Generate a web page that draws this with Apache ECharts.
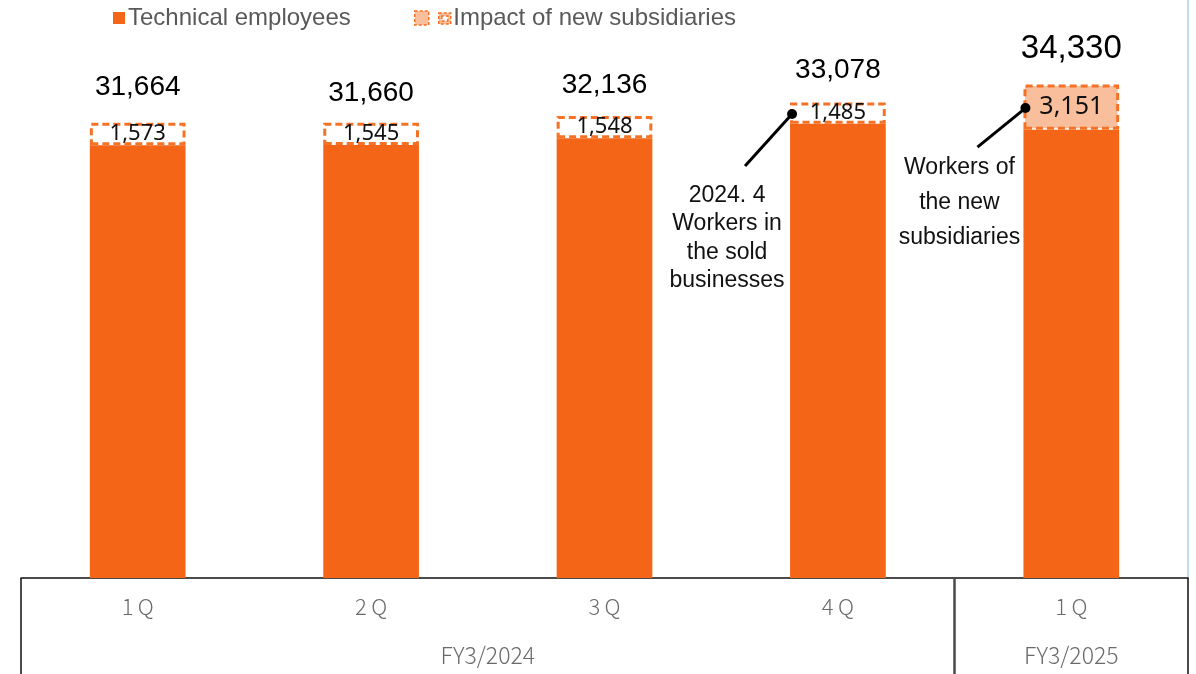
<!DOCTYPE html>
<html>
<head>
<meta charset="utf-8">
<script src="https://cdn.jsdelivr.net/npm/echarts@6/dist/echarts.min.js"></script>
<style>
  html, body { margin: 0; padding: 0; background: #fff; }
  #chart { width: 1196px; height: 674px; }
</style>
</head>
<body>
<div id="chart"></div>
<script>
// Quarter labels along the axis and the fiscal years they belong to
const quarters = ['1Q', '2Q', '3Q', '4Q', '1Q'];
const fiscalYears = ['FY3/2024', 'FY3/2025'];
const quartersPerYear = [4, 1];

// Headcount at each quarter end, and the part shown in the dashed box
const totals = [31664, 31660, 32136, 33078, 34330];
const boxedValues = [1573, 1545, 1548, 1485, 3151];

// Callout notes attached to the boxed segments
const noteBar4 = ['2024. 4', 'Workers in', 'the sold', 'businesses'];
const noteBar5 = ['Workers of', 'the new', 'subsidiaries'];

const seriesNames = ['Technical employees', 'Impact of new subsidiaries'];

const ORANGE = '#F46518';
const PEACH = '#F9BE9C';
const DASH_ORANGE = '#F47125';
const BAR_WIDTH = '41%';

const baseValues = totals.map((t, i) => t - boxedValues[i]);

// fiscal-year label positions: centre of each year's run of quarters
const yearCenters = [];
const yearEdges = [-0.5];
let start = 0;
quartersPerYear.forEach(n => {
  yearCenters.push(start + (n - 1) / 2);
  start += n;
  yearEdges.push(start - 0.5);
});

const lastIndex = quarters.length - 1;

const chart = echarts.init(document.getElementById('chart'), null, { renderer: 'canvas' });

const legendText = { fontFamily: 'Liberation Sans, Arial, sans-serif', fontSize: 24, color: '#595959' };
const axisFont = 'Noto Sans CJK JP, Noto Sans, sans-serif';

const option = {
  animation: false,
  backgroundColor: '#ffffff',
  legend: [
    {
      data: [{ name: seriesNames[0], icon: 'rect' }],
      left: 113, top: 6, padding: 0,
      itemWidth: 12, itemHeight: 12, itemGap: 0,
      textStyle: Object.assign({ padding: [0, 0, 0, -2] }, legendText),
      selectedMode: false
    },
    {
      data: [{
        name: seriesNames[1],
        icon: 'path://M0,0H14V14H0Z M24,2H36V13H24Z M27,5V10H33V5Z',
        itemStyle: { color: PEACH, borderColor: DASH_ORANGE, borderWidth: 1.5, borderType: [3, 2] }
      }],
      left: 414, top: 6, padding: 0,
      itemWidth: 39, itemHeight: 14, itemGap: 0,
      textStyle: Object.assign({ padding: [0, 0, 0, -4] }, legendText),
      selectedMode: false
    }
  ],
  grid: { left: 21, right: 8, top: 0, bottom: 96, containLabel: false },
  xAxis: [
    {
      type: 'category',
      data: quarters,
      position: 'bottom',
      axisLine: { show: true, lineStyle: { color: '#111', width: 1.5 } },
      axisTick: { show: false },
      axisLabel: {
        margin: 18,
        fontFamily: axisFont,
        fontWeight: 300,
        fontSize: 22,
        color: '#6a6a6a',
        formatter: v => v.replace('Q', '\u2009Q')
      },
      splitLine: { show: false }
    },
    {
      // outer frame of the two-row axis and the fiscal-year labels
      type: 'value',
      min: -0.5, max: lastIndex + 0.5,
      position: 'bottom',
      axisLine: { show: false },
      axisTick: {
        show: true, inside: false, length: 96,
        customValues: [yearEdges[0], yearEdges[yearEdges.length - 1]],
        lineStyle: { color: '#111', width: 1.5 }
      },
      axisLabel: {
        show: true,
        customValues: yearCenters,
        margin: 66,
        fontFamily: axisFont,
        fontWeight: 300,
        fontSize: 23,
        color: '#6a6a6a',
        formatter: v => fiscalYears[yearCenters.indexOf(v)] || ''
      },
      splitLine: { show: false }
    },
    {
      // divider between fiscal years
      type: 'value',
      min: -0.5, max: lastIndex + 0.5,
      position: 'bottom',
      axisLine: { show: false },
      axisTick: {
        show: true, inside: false, length: 96,
        customValues: yearEdges.slice(1, -1),
        lineStyle: { color: '#4a4a4a', width: 2.5 }
      },
      axisLabel: { show: false },
      splitLine: { show: false }
    }
  ],
  yAxis: [
    { type: 'value', min: 0, max: 40200, show: false, splitLine: { show: false } },
    {
      type: 'value', min: 0, max: 1, position: 'right',
      axisLine: { show: true, onZero: false, lineStyle: { color: '#A9CFEE', width: 1.5 } },
      axisTick: { show: false }, axisLabel: { show: false }, splitLine: { show: false }
    }
  ],
  series: [
    {
      name: seriesNames[0],
      type: 'bar',
      stack: 'staff',
      barWidth: BAR_WIDTH,
      data: baseValues,
      itemStyle: { color: ORANGE },
      z: 2
    },
    {
      name: seriesNames[1],
      type: 'bar',
      stack: 'staff',
      barWidth: BAR_WIDTH,
      data: boxedValues.map((v, i) => ({
        value: v,
        itemStyle: { color: i === lastIndex ? PEACH : '#ffffff' },
        label: { fontSize: i === lastIndex ? 25 : 22 }
      })),
      itemStyle: { borderColor: DASH_ORANGE, borderWidth: 3, borderType: [7, 4] },
      label: {
        show: true,
        position: 'inside',
        fontFamily: 'Noto Sans, sans-serif',
        color: '#111',
        formatter: p => p.value.toLocaleString('en-US')
      },
      z: 3
    },
    {
      // invisible bar at the full height carrying the total label
      name: 'total',
      type: 'bar',
      barWidth: BAR_WIDTH,
      barGap: '-100%',
      data: totals.map((v, i) => ({
        value: v,
        label: {
          distance: [21, 16, 17, 18, 19][i],
          fontSize: i === lastIndex ? 33 : 28
        }
      })),
      itemStyle: { color: 'rgba(0,0,0,0)' },
      label: {
        show: true,
        position: 'top',
        fontFamily: 'Liberation Sans, Arial, sans-serif',
        color: '#000',
        formatter: p => p.value.toLocaleString('en-US')
      },
      silent: true,
      z: 1
    }
  ]
};

chart.setOption(option);

// Callouts: a dot on the left edge of the boxed segment, a leader line and a note
function callout(index, lines, lineDx, lineDy, textDx, textTop, lineHeight) {
  const c0 = chart.convertToPixel({ xAxisIndex: 0 }, 0);
  const c1 = chart.convertToPixel({ xAxisIndex: 0 }, 1);
  const band = c1 - c0;
  const cx = chart.convertToPixel({ xAxisIndex: 0 }, index);
  const mid = chart.convertToPixel({ yAxisIndex: 0 }, baseValues[index] + boxedValues[index] / 2);
  const dx = cx - band * 0.41 / 2 + 2;
  const dy = mid + 1;
  return [
    {
      type: 'line', z: 10,
      shape: { x1: dx, y1: dy, x2: dx + lineDx, y2: dy + lineDy },
      style: { stroke: '#000', lineWidth: 3 }
    },
    {
      type: 'circle', z: 11,
      shape: { cx: dx, cy: dy, r: 5 },
      style: { fill: '#000' }
    },
    {
      type: 'text', z: 11,
      x: dx + textDx, y: dy + textTop,
      style: {
        text: lines.join('\n'),
        fontFamily: 'Liberation Sans, Arial, sans-serif',
        fontSize: 23,
        lineHeight: lineHeight,
        fill: '#111',
        align: 'center',
        verticalAlign: 'top'
      }
    }
  ];
}

chart.setOption({
  graphic: [
    ...callout(3, noteBar4, -47, 52, -65, 67, 28.5),
    ...callout(4, noteBar5, -48, 39, -66, 42, 35)
  ]
});
</script>
</body>
</html>
